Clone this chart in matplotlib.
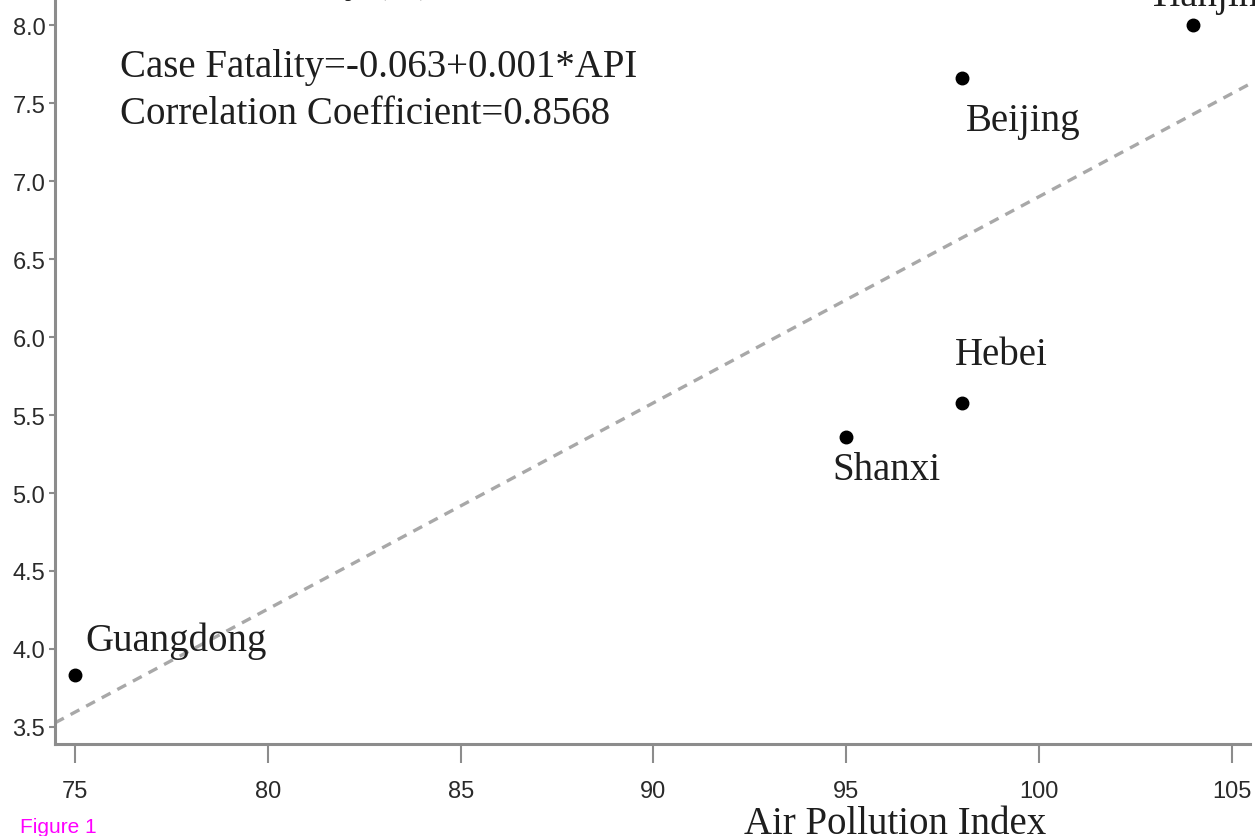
import numpy as np
import matplotlib
matplotlib.use('Agg')
from matplotlib import pyplot as plt

# Data
provinces = ['Guangdong', 'Shanxi', 'Hebei', 'Beijing', 'Tianjin']
api = [75, 95, 98, 98, 104]
fatality = [3.83, 5.36, 5.58, 7.66, 8.00]
# label offsets (pixels) from each point
label_dx = [10, 40, 39, 61, 10]
label_dy = [35, -33, 48, -42, 30]
label_ha = ['left', 'center', 'center', 'center', 'center']

fit_intercept = -6.328
fit_slope = 0.1323

xticks = [75, 80, 85, 90, 95, 100, 105]
yticks = [3.5, 4.0, 4.5, 5.0, 5.5, 6.0, 6.5, 7.0, 7.5, 8.0]

serif = 'Liberation Serif'
sans = 'Liberation Sans'
axcol = '#8c8c8c'
txtcol = '#1e1e1e'

W, H = 1255, 837
fig = plt.figure(figsize=(W/100, H/100), dpi=100)
ax = fig.add_axes([55/W, 92/H, 1195/W, 745/H])

xlo, xhi = 74.48, 105.47
ylo, yhi = 3.39, 8.17
xx = np.array([xlo, xhi])
ax.plot(xx, fit_intercept + fit_slope*xx, color='#a8a8a8', lw=2.4,
        linestyle=(0, (3, 2.3)), zorder=1)
ax.plot(api, fatality, 'o', color='black', markersize=9, zorder=3)

for name, x, y, dx, dy, ha in zip(provinces, api, fatality, label_dx, label_dy, label_ha):
    ax.annotate(name, (x, y), xytext=(dx, dy), textcoords='offset pixels',
                ha=ha, va='center', fontsize=28, family=serif, color=txtcol,
                annotation_clip=False)

ax.text(0.054, 0.909, 'Case Fatality=-0.063+0.001*API', transform=ax.transAxes,
        fontsize=28, family=serif, color=txtcol, va='center')
ax.text(0.054, 0.846, 'Correlation Coefficient=0.8568', transform=ax.transAxes,
        fontsize=28, family=serif, color=txtcol, va='center')

ax.set_xlim(xlo, xhi)
ax.set_ylim(ylo, yhi)
ax.set_xticks(xticks)
ax.set_yticks(yticks)
ax.set_xticklabels([str(t) for t in xticks], family=sans, fontsize=17, color='#2a2a2a')
ax.set_yticklabels(['%.1f' % t for t in yticks], family=sans, fontsize=17, color='#2a2a2a')
ax.tick_params(axis='x', length=14, width=1.5, color=axcol, pad=12)
ax.tick_params(axis='y', length=4, width=1.5, color=axcol, pad=3)

for s in ['top', 'right']:
    ax.spines[s].set_visible(False)
for s in ['left', 'bottom']:
    ax.spines[s].set_color(axcol)
    ax.spines[s].set_linewidth(2.2)

# axis titles (the y title sits above the image edge, as in the source)
fig.text(895/W, 3/H, 'Air Pollution Index', ha='center', va='baseline',
         fontsize=28, family=serif, color=txtcol)
fig.text(160/W, (H + 8)/H, 'Case Fatality (%)', ha='left', va='baseline',
         fontsize=28, family=serif, color=txtcol)
fig.text(20/W, 9/H, 'Figure 1', ha='left', va='center',
         fontsize=15, family=sans, color='#ff00ff')

fig.savefig('out.png', dpi=100)
